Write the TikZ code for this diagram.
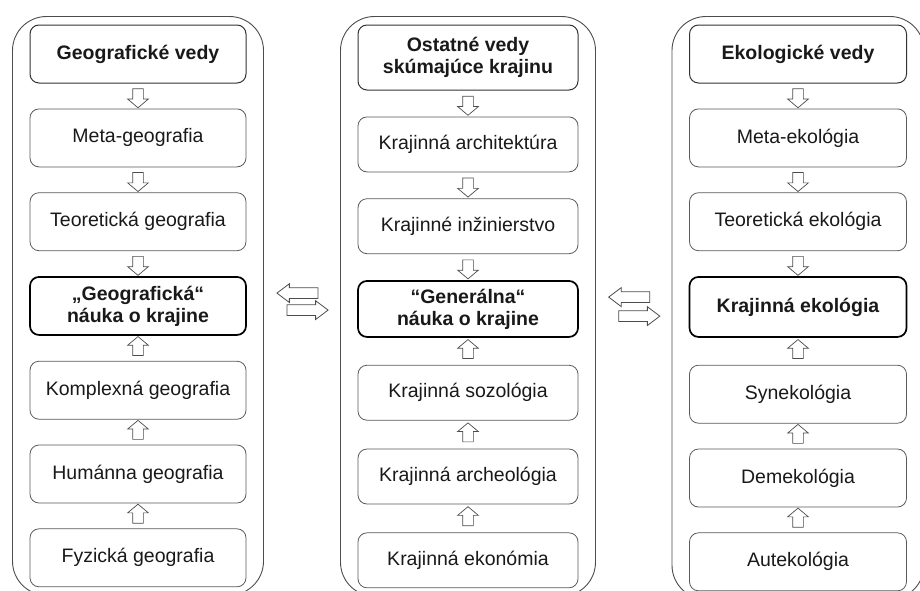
\documentclass[tikz,border=0pt]{standalone}
\usepackage{fontspec}
\setmainfont{Liberation Sans}
\usetikzlibrary{positioning,shapes.arrows,fit,calc}

\begin{document}
\begin{tikzpicture}[x=1pt,y=1pt,node distance=25pt,
    box/.style={draw=black!65,line width=0.8pt,rounded corners=9pt,text=black!90,
        minimum width=216pt,minimum height=58pt,align=center,
        font=\fontsize{19.5}{22}\selectfont},
    head box/.style={box,draw=black!80,line width=1pt,font=\fontsize{19.5}{22}\selectfont\bfseries},
    main box/.style={box,draw=black,line width=1.7pt,font=\fontsize{19.5}{22}\selectfont\bfseries},
    frame/.style={draw=black!70,line width=0.9pt,rounded corners=34pt,inner xsep=17pt,inner ysep=8pt},
    down arrow/.style={single arrow,draw=black!70,line width=0.7pt,fill=white,inner sep=5pt,
        minimum height=19pt,single arrow head extend=5pt,
        single arrow tip angle=100,shape border rotate=270},
    up arrow/.style={down arrow,shape border rotate=90},
    side arrow/.style={single arrow,draw=black!70,line width=0.8pt,inner sep=5pt,
        minimum height=41pt,single arrow head extend=4pt,
        single arrow tip angle=74}]

    \useasboundingbox (0,0) rectangle (920,-590);

    % Geographic sciences
    \node[head box] (g1) at (138,-54) {Geografické vedy};
    \node[box] (g2) [below=of g1] {Meta-geografia};
    \node[box] (g3) [below=of g2] {Teoretická geografia};
    \node[main box] (g4) [below=of g3] {„Geografická“\\náuka o krajine};
    \node[box] (g5) [below=of g4] {Komplexná geografia};
    \node[box] (g6) [below=of g5] {Humánna geografia};
    \node[box] (g7) [below=of g6] {Fyzická geografia};

    % Other landscape sciences
    \node[head box,minimum width=220pt,minimum height=65pt] (o1) at (468,-57.5) {Ostatné vedy\\skúmajúce krajinu};
    \node[box,minimum width=220pt,minimum height=55pt] (o2) [below=26pt of o1] {Krajinná architektúra};
    \node[box,minimum width=220pt,minimum height=55pt] (o3) [below=26pt of o2] {Krajinné inžinierstvo};
    \node[main box,minimum width=220pt,minimum height=56pt] (o4) [below=26pt of o3] {“Generálna“\\náuka o krajine};
    \node[box,minimum width=220pt,minimum height=55pt] (o5) [below=27pt of o4] {Krajinná sozológia};
    \node[box,minimum width=220pt,minimum height=55pt] (o6) [below=28pt of o5] {Krajinná archeológia};
    \node[box,minimum width=220pt,minimum height=55pt] (o7) [below=28pt of o6] {Krajinná ekonómia};

    % Ecological sciences
    \node[head box,minimum width=217pt] (e1) at (798,-54) {Ekologické vedy};
    \node[box,minimum width=217pt] (e2) [below=of e1] {Meta-ekológia};
    \node[box,minimum width=217pt] (e3) [below=of e2] {Teoretická ekológia};
    \node[main box,minimum width=217pt,minimum height=60pt] (e4) [below=of e3] {Krajinná ekológia};
    \node[box,minimum width=217pt] (e5) [below=27pt of e4] {Synekológia};
    \node[box,minimum width=217pt] (e6) [below=of e5] {Demekológia};
    \node[box,minimum width=217pt] (e7) [below=of e6] {Autekológia};

    % Frames
    \node[frame,fit=(g1)(g7)] (fg) {};
    \node[frame,fit=(o1)(o7)] (fo) {};
    \node[frame,fit=(e1)(e7)] (fe) {};

    % Arrows inside the columns
    \foreach \a/\b in {g1/g2,g2/g3,g3/g4,o1/o2,o2/o3,o3/o4,e1/e2,e2/e3,e3/e4}
        \node[down arrow] at ($(\a.south)!0.5!(\b.north)$) {};
    \foreach \a/\b in {g4/g5,g5/g6,g6/g7,o4/o5,o5/o6,o6/o7,e4/e5,e5/e6,e6/e7}
        \node[up arrow] at ($(\a.south)!0.5!(\b.north)$) {};

    % Arrows between the columns
    \node[side arrow,shape border rotate=180] (l1) at ($(fg.east)!0.5!(fo.west)+(-1,13)$) {};
    \node[side arrow] (r1) at ($(fg.east)!0.5!(fo.west)+(2,-4)$) {};
    \node[side arrow,shape border rotate=180] (l2) at ($(fo.east)!0.5!(fe.west)+(-1,10)$) {};
    \node[side arrow] (r2) at ($(fo.east)!0.5!(fe.west)+(2,-9)$) {};

\end{tikzpicture}
\end{document}
